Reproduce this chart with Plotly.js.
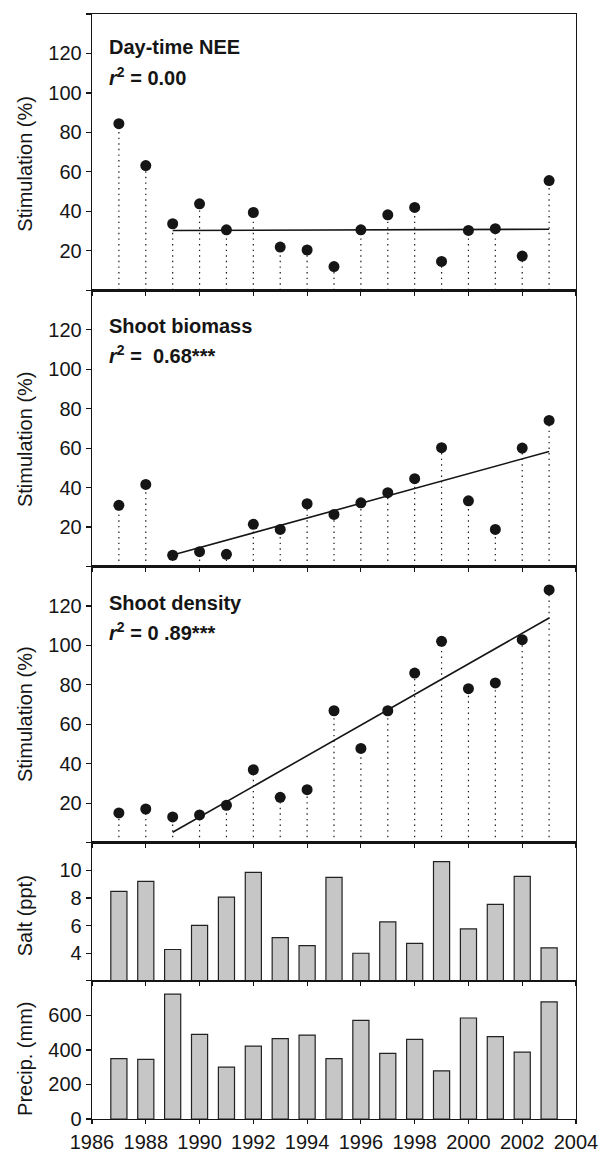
<!DOCTYPE html>
<html>
<head>
<meta charset="utf-8">
<script src="https://cdn.plot.ly/plotly-3.0.1.min.js"></script>
<style>
  html, body { margin: 0; padding: 0; background: #fff; }
  #chart { width: 603px; height: 1153px; }
</style>
</head>
<body>
<div id="chart"></div>
<script>
// ---- data ----
const years = [1987, 1988, 1989, 1990, 1991, 1992, 1993, 1994, 1995, 1996, 1997, 1998, 1999, 2000, 2001, 2002, 2003];
const neeStim = [84.4, 63.2, 33.7, 43.8, 30.6, 39.4, 21.9, 20.4, 12.0, 30.6, 38.2, 42.0, 14.6, 30.3, 31.2, 17.3, 55.6];
const biomassStim = [31.0, 41.6, 5.7, 7.5, 6.2, 21.4, 18.8, 31.8, 26.4, 32.3, 37.4, 44.5, 60.2, 33.3, 18.8, 60.0, 74.0];
const densityStim = [15.1, 17.1, 13.1, 14.1, 19.0, 37.0, 23.0, 26.9, 66.9, 47.8, 66.9, 86.0, 102.1, 78.1, 81.0, 102.9, 128.1];
const salt = [8.48, 9.2, 4.27, 6.02, 8.07, 9.86, 5.13, 4.55, 9.5, 4.0, 6.27, 4.72, 10.63, 5.76, 7.54, 9.57, 4.39];
const precip = [350, 345, 723, 490, 300, 422, 465, 486, 350, 571, 380, 461, 279, 585, 477, 387, 678];

const fitYears = [1989, 2003];
const neeFit = [30.3, 30.9];
const biomassFit = [5.8, 58.3];
const densityFit = [5.3, 113.9];

const stimTicks = [20, 40, 60, 80, 100, 120];
const stimEndTicks = [0, 140];
const saltTicks = [4, 6, 8, 10];
const saltEndTicks = [2, 12];
const precipTicks = [0, 200, 400, 600];
const precipEndTicks = [800];
const yearTicks = [1986, 1988, 1990, 1992, 1994, 1996, 1998, 2000, 2002, 2004];

const panelTitles = ['Day-time NEE', 'Shoot biomass', 'Shoot density'];
const panelR2 = ['<i>r</i><sup>2</sup> = 0.00', '<i>r</i><sup>2</sup> =  0.68***', '<i>r</i><sup>2</sup> = 0 .89***'];
const yTitles = ['Stimulation (%)', 'Stimulation (%)', 'Stimulation (%)', 'Salt (ppt)', 'Precip. (mm)'];

// ---- build traces ----
const FONT = 'Liberation Sans, Arial, Helvetica, sans-serif';
const INK = '#151515';

function drops(vals) {
  const xs = [], ys = [];
  years.forEach((yr, i) => { xs.push(yr, yr, null); ys.push(0, vals[i], null); });
  return { x: xs, y: ys };
}

const traces = [];
[[neeStim, neeFit], [biomassStim, biomassFit], [densityStim, densityFit]].forEach((pair, k) => {
  const ax = k === 0 ? '' : String(k + 1);
  const d = drops(pair[0]);
  traces.push({
    x: d.x, y: d.y, xaxis: 'x' + ax, yaxis: 'y' + ax, mode: 'lines', type: 'scatter',
    line: { color: INK, width: 1.2, dash: '1.4px,4.2px' }, hoverinfo: 'skip', showlegend: false
  });
  traces.push({
    x: fitYears, y: pair[1], xaxis: 'x' + ax, yaxis: 'y' + ax, mode: 'lines', type: 'scatter',
    line: { color: INK, width: 1.6 }, showlegend: false
  });
  traces.push({
    x: years, y: pair[0], xaxis: 'x' + ax, yaxis: 'y' + ax, mode: 'markers', type: 'scatter',
    marker: { color: INK, size: 11 }, showlegend: false
  });
});
traces.push({
  x: years, y: salt, xaxis: 'x4', yaxis: 'y4', type: 'bar', width: 0.6,
  marker: { color: '#c6c6c6', line: { color: '#222', width: 1.2 } }, showlegend: false
});
traces.push({
  x: years, y: precip, xaxis: 'x5', yaxis: 'y5', type: 'bar', width: 0.6,
  marker: { color: '#c6c6c6', line: { color: '#222', width: 1.2 } }, showlegend: false
});

// ---- layout ----
const domains = [[0.75, 1], [0.5, 0.75], [0.25, 0.5], [0.125, 0.25], [0, 0.125]];
const yRanges = [[0, 140], [0, 140], [0, 140], [2, 12], [0, 800]];
const yTV = [stimTicks, stimTicks, stimTicks, saltTicks, precipTicks];
const yEnd = [stimEndTicks, stimEndTicks, stimEndTicks, saltEndTicks, precipEndTicks];

const layout = {
  width: 603, height: 1153,
  margin: { l: 92, r: 27, t: 14, b: 34 },
  paper_bgcolor: '#fff', plot_bgcolor: '#fff',
  font: { family: FONT, size: 20, color: INK },
  bargap: 0.4,
  annotations: []
};

for (let i = 0; i < 5; i++) {
  const n = i === 0 ? '' : String(i + 1);
  layout['xaxis' + n] = {
    domain: [0, 1], anchor: 'y' + n, range: [1986, 2004],
    tickmode: 'array', tickvals: yearTicks, ticktext: yearTicks.map(String),
    showticklabels: i === 4, ticks: 'outside', ticklen: 4, tickwidth: 1.2, tickcolor: INK,
    showline: true, mirror: true, linecolor: INK, linewidth: 1.3,
    showgrid: false, zeroline: false, automargin: false,
    tickfont: { family: FONT, size: 20, color: INK }, ticklabelstandoff: 1
  };
  if (i > 0) layout['xaxis' + n].matches = 'x';
  layout['yaxis' + n] = {
    domain: domains[i], anchor: 'x' + n, range: yRanges[i],
    tickmode: 'array', tickvals: yTV[i], ticktext: yTV[i].map(String),
    ticks: 'outside', ticklen: 5, tickwidth: 1.2, tickcolor: INK,
    minor: { tickmode: 'array', tickvals: yEnd[i], ticks: 'outside', ticklen: 5, tickwidth: 1.2, tickcolor: INK, showgrid: false },
    showline: true, mirror: true, linecolor: INK, linewidth: 1.3,
    showgrid: false, zeroline: false, automargin: false,
    tickfont: { family: FONT, size: 20, color: INK }
  };
}

const yTitleShift = [-11.5, -10.7, -9.4, -4.5, -9];
yTitles.forEach((t, i) => {
  const n = i === 0 ? '' : String(i + 1);
  layout.annotations.push({
    text: t, xref: 'paper', x: 0, xanchor: 'center', xshift: -67,
    yref: 'y' + n + ' domain', y: 0.5, yanchor: 'middle', yshift: yTitleShift[i],
    textangle: -90, showarrow: false, font: { family: FONT, size: 20, color: INK }
  });
});

const line1Shift = [-32.6, -36, -36.7];
const line2Shift = [-62, -64.4, -65];
panelTitles.forEach((t, i) => {
  const n = i === 0 ? '' : String(i + 1);
  layout.annotations.push({
    text: '<b>' + t + '</b>', xref: 'paper', x: 0, xanchor: 'left', xshift: 15,
    yref: 'y' + n + ' domain', y: 1, yanchor: 'middle', yshift: line1Shift[i],
    showarrow: false, align: 'left', font: { family: FONT, size: 20, color: INK }
  });
  layout.annotations.push({
    text: '<b>' + panelR2[i] + '</b>', xref: 'paper', x: 0, xanchor: 'left', xshift: 15,
    yref: 'y' + n + ' domain', y: 1, yanchor: 'middle', yshift: line2Shift[i],
    showarrow: false, align: 'left', font: { family: FONT, size: 20, color: INK }
  });
});

Plotly.newPlot('chart', traces, layout, { displayModeBar: false, staticPlot: true });
</script>
</body>
</html>
